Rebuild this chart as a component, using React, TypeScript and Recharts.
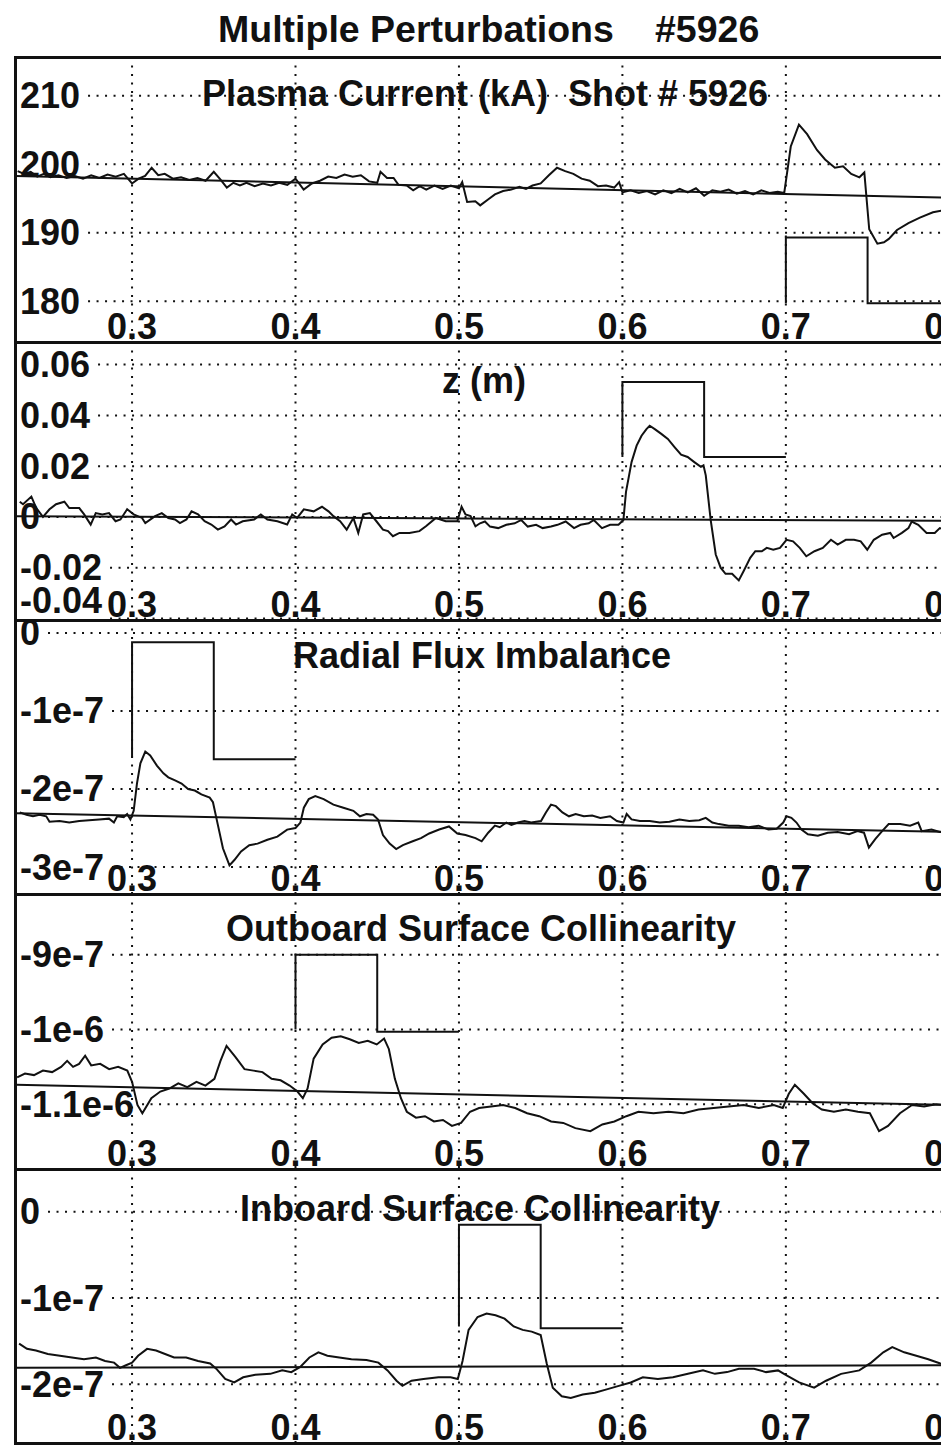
import React from "react"
import { LineChart, Line, XAxis, YAxis, CartesianGrid, ReferenceLine } from "recharts"

type Pt = [number, number]

const FONT = '"Liberation Sans", Arial, Helvetica, sans-serif'
const INK = "#111"

// time axis (s), shared by every panel
const timeTicks = [0.3, 0.4, 0.5, 0.6, 0.7, 0.8]
const timeDomain: [number, number] = [0.229, 0.82]

// --- Plasma current (kA)
const currentTicks = [210, 200, 190, 180]
const currentTickLabels = ["210", "200", "190", "180"]
const currentTrace: Pt[] = [
  [0.23, 199.0], [0.234, 198.6], [0.238, 198.9], [0.242, 198.2], [0.246, 198.6], [0.25, 198.1], [0.255, 198.4],
  [0.26, 198.0], [0.265, 198.3], [0.27, 197.9], [0.275, 198.4], [0.28, 198.0], [0.285, 198.5], [0.29, 198.2],
  [0.295, 198.6], [0.3, 197.2], [0.304, 197.9], [0.308, 198.3], [0.312, 199.5], [0.316, 198.4], [0.32, 198.6],
  [0.325, 197.9], [0.33, 198.1], [0.335, 197.7], [0.34, 198.0], [0.345, 197.6], [0.35, 198.9], [0.354, 197.8],
  [0.358, 196.6], [0.362, 197.3], [0.366, 196.9], [0.37, 197.3], [0.375, 196.8], [0.38, 197.2], [0.385, 196.9],
  [0.39, 197.3], [0.395, 197.0], [0.4, 197.9], [0.405, 196.3], [0.41, 197.2], [0.415, 197.6], [0.42, 198.2],
  [0.425, 198.0], [0.43, 198.5], [0.435, 198.2], [0.44, 198.4], [0.445, 197.5], [0.45, 197.3], [0.452, 198.9],
  [0.456, 198.0], [0.46, 198.0], [0.463, 197.0], [0.468, 196.9], [0.472, 196.2], [0.476, 196.8], [0.48, 196.3],
  [0.485, 196.9], [0.49, 196.4], [0.495, 196.9], [0.5, 196.5], [0.502, 197.4], [0.505, 194.5], [0.51, 194.6],
  [0.513, 194.0], [0.518, 194.9], [0.522, 195.6], [0.527, 196.1], [0.532, 196.3], [0.537, 196.7], [0.541, 196.4],
  [0.545, 196.9], [0.55, 197.2], [0.555, 198.4], [0.56, 199.5], [0.565, 199.0], [0.57, 198.6], [0.575, 197.9],
  [0.58, 197.6], [0.585, 196.8], [0.59, 196.9], [0.595, 196.6], [0.598, 197.4], [0.6, 195.9], [0.605, 196.2],
  [0.61, 195.8], [0.615, 196.1], [0.62, 195.6], [0.625, 196.2], [0.63, 195.8], [0.635, 196.4], [0.64, 195.9],
  [0.645, 196.5], [0.65, 195.4], [0.655, 196.2], [0.66, 196.0], [0.665, 196.3], [0.67, 195.7], [0.675, 196.1],
  [0.68, 195.6], [0.685, 196.2], [0.69, 195.8], [0.695, 196.0], [0.699, 195.8], [0.703, 202.6], [0.708, 205.8],
  [0.713, 204.4], [0.719, 202.1], [0.724, 200.7], [0.73, 199.5], [0.735, 199.7], [0.74, 198.6], [0.745, 198.1],
  [0.748, 198.8], [0.751, 190.5], [0.756, 188.4], [0.76, 188.6], [0.763, 189.1], [0.768, 190.4], [0.775, 191.4],
  [0.782, 192.2], [0.79, 193.0], [0.797, 193.3],
]
const currentFit: Pt[] = [[0.229, 198.3], [0.82, 195.0]]
const currentPulse: Pt[] = [[0.7, 179.7], [0.7, 189.3], [0.75, 189.3], [0.75, 179.7], [0.82, 179.7]]

// --- z (m)
const zTicks = [0.06, 0.04, 0.02, 0, -0.02, -0.04]
const zTickLabels = ["0.06", "0.04", "0.02", "0", "-0.02", "-0.04"]
const zTrace: Pt[] = [
  [0.2313, 0.006], [0.2333, 0.005], [0.2384, 0.008], [0.2414, 0.0035], [0.2455, 0], [0.2495, 0.003], [0.2535, 0.005],
  [0.2586, 0.006], [0.2616, 0.0035], [0.2677, 0.0035], [0.2707, 0.001], [0.2747, -0.003], [0.2778, 0.0015],
  [0.2818, 0.001], [0.2859, 0.0015], [0.2899, -0.0017], [0.2929, -0.001], [0.297, 0.003], [0.301, 0.001],
  [0.3061, -0.0004], [0.3081, -0.0024], [0.3141, 0.0003], [0.3182, 0.0015], [0.3222, -0.0004], [0.3263, -0.001],
  [0.3293, -0.0024], [0.3333, -0.001], [0.3364, 0.0022], [0.3404, 0.001], [0.3444, -0.0017], [0.3485, -0.003],
  [0.3525, -0.005], [0.3566, -0.0037], [0.3606, -0.001], [0.3636, -0.003], [0.3677, -0.0017], [0.3747, -0.001],
  [0.3788, 0.001], [0.3828, -0.001], [0.3889, -0.0017], [0.3949, -0.003], [0.398, 0.001], [0.401, -0.0004],
  [0.4051, 0.003], [0.4111, 0.0022], [0.4162, 0.004], [0.4202, 0.0022], [0.4232, 0.0003], [0.4273, -0.0017],
  [0.4313, -0.005], [0.4354, -0.0004], [0.4384, -0.0063], [0.4414, 0.001], [0.4455, 0.0015], [0.4495, -0.0017],
  [0.4535, -0.005], [0.4566, -0.0056], [0.4596, -0.0076], [0.4636, -0.0063], [0.4697, -0.0063], [0.4758, -0.0056],
  [0.4798, -0.0037], [0.4859, -0.0004], [0.4919, -0.0017], [0.499, -0.0017], [0.5016, 0.004], [0.504, 0.001],
  [0.5071, 0.0003], [0.5101, -0.0037], [0.5129, -0.0025], [0.5159, -0.0018], [0.519, -0.0038], [0.524, -0.0044],
  [0.529, -0.0031], [0.5341, -0.0025], [0.5381, -0.0012], [0.5421, -0.0038], [0.5472, -0.0031], [0.5512, -0.0044],
  [0.5563, -0.0038], [0.5603, -0.0031], [0.5653, -0.0018], [0.5704, -0.0044], [0.5744, -0.0031], [0.5794, -0.0025],
  [0.5825, -0.0012], [0.5875, -0.0044], [0.5925, -0.0031], [0.5976, -0.0031], [0.6006, -0.0012], [0.6022, 0.0099],
  [0.6056, 0.0216], [0.6087, 0.0281], [0.6117, 0.032], [0.6147, 0.0346], [0.6167, 0.0359], [0.6198, 0.0346],
  [0.6238, 0.0327], [0.6278, 0.0307], [0.6319, 0.0275], [0.6359, 0.0245], [0.6399, 0.0236], [0.644, 0.0216],
  [0.648, 0.0197], [0.6496, 0.0203], [0.651, 0.0164], [0.654, -0.0012], [0.6571, -0.0148], [0.6601, -0.02],
  [0.6631, -0.0224], [0.6671, -0.0224], [0.6712, -0.025], [0.6742, -0.0213], [0.6782, -0.0161], [0.6813, -0.0135],
  [0.6853, -0.0135], [0.6883, -0.0122], [0.6923, -0.0129], [0.6964, -0.0122], [0.7004, -0.009], [0.7044, -0.0096],
  [0.7085, -0.0122], [0.7125, -0.0155], [0.7175, -0.0135], [0.7226, -0.0122], [0.7276, -0.009], [0.7317, -0.0109],
  [0.7367, -0.009], [0.7417, -0.009], [0.7458, -0.0096], [0.7498, -0.0129], [0.7538, -0.009], [0.7589, -0.007],
  [0.7639, -0.0063], [0.7659, -0.0083], [0.771, -0.0063], [0.775, -0.0044], [0.777, -0.0018], [0.781, -0.0031],
  [0.7861, -0.0063], [0.7911, -0.0063], [0.7942, -0.0044], [0.797, -0.005],
]
const zFit: Pt[] = [[0.229, 0.0003], [0.82, -0.0016]]
const zPulse: Pt[] = [[0.6, 0.0236], [0.6, 0.0531], [0.65, 0.0531], [0.65, 0.0236], [0.7, 0.0236]]

// --- Radial flux imbalance (units of 1e-7)
const fluxTicks = [0, -1, -2, -3]
const fluxTickLabels = ["0", "-1e-7", "-2e-7", "-3e-7"]
const fluxTrace: Pt[] = [
  [0.2313, -2.3], [0.2354, -2.33], [0.2394, -2.35], [0.2434, -2.33], [0.2475, -2.35], [0.2495, -2.42], [0.2556, -2.41],
  [0.2616, -2.43], [0.2677, -2.41], [0.2737, -2.4], [0.2798, -2.39], [0.2859, -2.38], [0.2889, -2.43], [0.2909, -2.35],
  [0.2949, -2.36], [0.297, -2.32], [0.299, -2.39], [0.301, -2.28], [0.303, -1.93], [0.3051, -1.67], [0.3081, -1.52],
  [0.3111, -1.57], [0.3152, -1.7], [0.3192, -1.8], [0.3222, -1.85], [0.3263, -1.89], [0.3303, -1.93], [0.3343, -2.0],
  [0.3384, -2.02], [0.3424, -2.07], [0.3475, -2.11], [0.3495, -2.17], [0.3525, -2.46], [0.3556, -2.76], [0.3596, -2.98],
  [0.3626, -2.91], [0.3667, -2.8], [0.3717, -2.72], [0.3768, -2.7], [0.3828, -2.65], [0.3889, -2.61], [0.3949, -2.52],
  [0.4, -2.5], [0.403, -2.43], [0.4051, -2.24], [0.4081, -2.13], [0.4121, -2.09], [0.4172, -2.13], [0.4232, -2.2],
  [0.4293, -2.24], [0.4354, -2.28], [0.4394, -2.35], [0.4434, -2.32], [0.4475, -2.33], [0.4505, -2.39], [0.4535, -2.59],
  [0.4576, -2.7], [0.4616, -2.77], [0.4657, -2.72], [0.4717, -2.67], [0.4768, -2.63], [0.4818, -2.57], [0.4879, -2.52],
  [0.4939, -2.48], [0.499, -2.57], [0.504, -2.59], [0.5101, -2.63], [0.5139, -2.67], [0.5179, -2.56], [0.522, -2.47],
  [0.525, -2.49], [0.529, -2.43], [0.5321, -2.46], [0.5361, -2.43], [0.5401, -2.41], [0.5442, -2.43], [0.5502, -2.41],
  [0.5532, -2.3], [0.5563, -2.2], [0.5593, -2.22], [0.5633, -2.3], [0.5673, -2.35], [0.5714, -2.32], [0.5764, -2.35],
  [0.5815, -2.34], [0.5865, -2.37], [0.5925, -2.35], [0.5966, -2.41], [0.6006, -2.43], [0.6026, -2.32], [0.6056, -2.39],
  [0.6107, -2.41], [0.6167, -2.41], [0.6228, -2.43], [0.6288, -2.42], [0.6349, -2.39], [0.6409, -2.41], [0.647, -2.4],
  [0.651, -2.37], [0.655, -2.43], [0.6591, -2.45], [0.6651, -2.47], [0.6712, -2.47], [0.6772, -2.49], [0.6833, -2.47],
  [0.6893, -2.52], [0.6944, -2.51], [0.6984, -2.43], [0.7004, -2.35], [0.7034, -2.37], [0.7065, -2.43], [0.7095, -2.52],
  [0.7135, -2.58], [0.7196, -2.6], [0.7256, -2.56], [0.7317, -2.55], [0.7387, -2.58], [0.7438, -2.54], [0.7478, -2.56],
  [0.7508, -2.75], [0.7548, -2.64], [0.7589, -2.54], [0.7629, -2.45], [0.77, -2.45], [0.776, -2.47], [0.781, -2.43],
  [0.7831, -2.54], [0.7891, -2.52], [0.7942, -2.55], [0.797, -2.56],
]
const fluxFit: Pt[] = [[0.229, -2.31], [0.82, -2.56]]
const fluxPulse: Pt[] = [[0.3, -1.6], [0.3, -0.12], [0.35, -0.12], [0.35, -1.62], [0.4, -1.62]]

// --- Outboard surface collinearity (units of 1e-7)
const outTicks = [-9, -10, -11]
const outTickLabels = ["-9e-7", "-1e-6", "-1.1e-6"]
const outTrace: Pt[] = [
  [0.2297, -10.64], [0.2345, -10.59], [0.24, -10.61], [0.2455, -10.55], [0.2511, -10.57], [0.2566, -10.5], [0.2603, -10.42],
  [0.2639, -10.5], [0.2676, -10.46], [0.2713, -10.35], [0.275, -10.48], [0.2805, -10.46], [0.286, -10.53], [0.2915, -10.5],
  [0.2971, -10.55], [0.3, -10.7], [0.3033, -11.01], [0.3063, -11.12], [0.3118, -10.92], [0.3173, -10.83], [0.3228, -10.79],
  [0.3283, -10.72], [0.3338, -10.77], [0.3394, -10.7], [0.3449, -10.75], [0.3504, -10.66], [0.3541, -10.42], [0.3578, -10.22],
  [0.3633, -10.37], [0.3688, -10.53], [0.3743, -10.55], [0.3798, -10.57], [0.3854, -10.66], [0.3909, -10.68], [0.3964, -10.75],
  [0.4012, -10.83], [0.4045, -10.92], [0.4074, -10.79], [0.4111, -10.39], [0.4166, -10.2], [0.4221, -10.11], [0.4277, -10.09],
  [0.4332, -10.13], [0.4387, -10.18], [0.4442, -10.15], [0.4497, -10.2], [0.4542, -10.12], [0.4571, -10.26], [0.4608, -10.66],
  [0.4645, -10.92], [0.4681, -11.1], [0.4737, -11.18], [0.4792, -11.16], [0.4847, -11.23], [0.4902, -11.21], [0.4957, -11.29],
  [0.5013, -11.25], [0.5068, -11.1], [0.5123, -11.05], [0.5196, -11.03], [0.527, -11.01], [0.5344, -11.05], [0.5417, -11.12],
  [0.5491, -11.16], [0.5564, -11.23], [0.5638, -11.25], [0.5712, -11.32], [0.5804, -11.36], [0.5877, -11.27], [0.5951, -11.23],
  [0.6024, -11.16], [0.6098, -11.1], [0.619, -11.12], [0.6282, -11.1], [0.6374, -11.12], [0.6466, -11.07], [0.6558, -11.05],
  [0.665, -11.03], [0.6742, -11.01], [0.6834, -11.05], [0.6926, -11.01], [0.6981, -11.05], [0.7018, -10.86], [0.7055, -10.74],
  [0.711, -10.86], [0.7165, -10.99], [0.722, -11.07], [0.7294, -11.1], [0.7367, -11.07], [0.7441, -11.1], [0.7514, -11.12],
  [0.757, -11.36], [0.7625, -11.29], [0.7698, -11.12], [0.7772, -11.01], [0.7846, -11.03], [0.7919, -11.0], [0.7974, -11.01],
]
const outFit: Pt[] = [[0.229, -10.74], [0.82, -11.02]]
const outPulse: Pt[] = [[0.4, -10.0], [0.4, -9.0], [0.45, -9.0], [0.45, -10.03], [0.5, -10.03]]

// --- Inboard surface collinearity (units of 1e-7)
const inTicks = [0, -1, -2]
const inTickLabels = ["0", "-1e-7", "-2e-7"]
const inTrace: Pt[] = [
  [0.2309, -1.53], [0.2357, -1.59], [0.2412, -1.61], [0.2485, -1.65], [0.2559, -1.67], [0.2632, -1.69], [0.2706, -1.71],
  [0.2779, -1.69], [0.2835, -1.73], [0.289, -1.75], [0.2926, -1.81], [0.2963, -1.78], [0.3, -1.75], [0.3037, -1.67],
  [0.3092, -1.59], [0.3147, -1.61], [0.3202, -1.65], [0.3257, -1.69], [0.3331, -1.69], [0.3404, -1.73], [0.3478, -1.76],
  [0.3515, -1.82], [0.357, -1.94], [0.3625, -1.98], [0.368, -1.92], [0.3754, -1.89], [0.3846, -1.88], [0.3919, -1.84],
  [0.3974, -1.86], [0.4029, -1.8], [0.4085, -1.69], [0.414, -1.63], [0.4195, -1.67], [0.4268, -1.69], [0.4342, -1.71],
  [0.4434, -1.72], [0.4507, -1.75], [0.4563, -1.84], [0.4618, -1.96], [0.4654, -2.02], [0.471, -1.96], [0.4783, -1.94],
  [0.4875, -1.92], [0.4949, -1.92], [0.4993, -1.94], [0.5022, -1.73], [0.5059, -1.37], [0.5114, -1.22], [0.5169, -1.18],
  [0.5224, -1.2], [0.5279, -1.24], [0.5335, -1.33], [0.539, -1.37], [0.5445, -1.39], [0.55, -1.43], [0.5537, -1.76],
  [0.5574, -2.04], [0.5629, -2.14], [0.5684, -2.16], [0.5757, -2.12], [0.5831, -2.1], [0.5904, -2.06], [0.5978, -2.02],
  [0.6051, -1.98], [0.6125, -1.92], [0.6217, -1.94], [0.6309, -1.92], [0.6401, -1.88], [0.6493, -1.84], [0.6566, -1.88],
  [0.664, -1.86], [0.6713, -1.82], [0.6805, -1.82], [0.6879, -1.86], [0.6952, -1.84], [0.7007, -1.9], [0.7081, -1.98],
  [0.7173, -2.04], [0.7246, -1.96], [0.7338, -1.88], [0.7449, -1.84], [0.7522, -1.75], [0.7596, -1.63], [0.7651, -1.57],
  [0.7724, -1.63], [0.7798, -1.67], [0.7871, -1.71], [0.7945, -1.76], [0.7982, -1.78],
]
const inFit: Pt[] = [[0.229, -1.81], [0.82, -1.78]]
const inPulse: Pt[] = [[0.5, -1.33], [0.5, -0.15], [0.55, -0.15], [0.55, -1.35], [0.6, -1.35]]

type PanelCfg = {
  title: string
  titleX: number
  titleY: number
  top: number
  bottom: number
  domain: [number, number]
  ticks: number[]
  tickLabels: string[]
  trace: Pt[]
  fit: Pt[]
  pulse: Pt[]
}

const panels: PanelCfg[] = [
  { title: "Plasma Current (kA)  Shot # 5926", titleX: 485, titleY: 94, top: 57, bottom: 342, domain: [174.18, 215.68],
    ticks: currentTicks, tickLabels: currentTickLabels, trace: currentTrace, fit: currentFit, pulse: currentPulse },
  { title: "z (m)", titleX: 484, titleY: 381, top: 342, bottom: 620, domain: [-0.0402, 0.0689],
    ticks: zTicks, tickLabels: zTickLabels, trace: zTrace, fit: zFit, pulse: zPulse },
  { title: "Radial Flux Imbalance", titleX: 482, titleY: 656, top: 620, bottom: 894, domain: [-3.333, 0.166],
    ticks: fluxTicks, tickLabels: fluxTickLabels, trace: fluxTrace, fit: fluxFit, pulse: fluxPulse },
  { title: "Outboard Surface Collinearity", titleX: 481, titleY: 929, top: 894, bottom: 1169, domain: [-11.853, -8.187],
    ticks: outTicks, tickLabels: outTickLabels, trace: outTrace, fit: outFit, pulse: outPulse },
  { title: "Inboard Surface Collinearity", titleX: 480, titleY: 1209, top: 1169, bottom: 1443, domain: [-2.671, 0.497],
    ticks: inTicks, tickLabels: inTickLabels, trace: inTrace, fit: inFit, pulse: inPulse },
]

const PLOT_LEFT = 15
const PLOT_W = 967
const FS = 36
const DOTS = "2 6.5"
const PX_PER_T = (PLOT_W - 1) / (timeDomain[1] - timeDomain[0])

const charW = (s: string) =>
  [...s].reduce((w, c) => w + (c === "-" ? 0.333 : c === "." ? 0.278 : 0.556), 0) * FS

const toPts = (a: Pt[]) => a.map(([t, v]) => ({ t, v }))

function XTick(props: any) {
  const { x, payload, h } = props
  return (
    <text x={x} y={h - 16} textAnchor="middle" dominantBaseline="central"
      fontFamily={FONT} fontWeight={700} fontSize={FS} fill={INK}>
      {String(payload.value)}
    </text>
  )
}

function YTick(props: any) {
  const { y, payload, h, ticks, labels } = props
  const i = ticks.indexOf(payload.value)
  const label = labels[i] ?? String(payload.value)
  return (
    <text x={5} y={Math.min(y, h - 20)} dominantBaseline="central" fontFamily={FONT} fontWeight={700}
      fontSize={FS} fill={INK}>
      {label}
    </text>
  )
}

function Panel({ p }: { p: PanelCfg }) {
  const h = p.bottom - p.top
  return (
    <div style={{ position: "absolute", left: PLOT_LEFT, top: p.top }}>
      <LineChart width={PLOT_W} height={h} margin={{ top: 0, right: 0, bottom: 0, left: 0 }}>
        <CartesianGrid stroke={INK} strokeWidth={2} strokeDasharray={DOTS} horizontal={false} />
        {/* horizontal grid starts just past each value label */}
        {p.ticks.map((v, i) => (
          <ReferenceLine
            key={v}
            segment={[
              { x: timeDomain[0] + (charW(p.tickLabels[i]) + 12) / PX_PER_T, y: v },
              { x: timeDomain[1], y: v },
            ]}
            stroke={INK}
            strokeWidth={2}
            strokeDasharray={DOTS}
          />
        ))}
        <XAxis
          dataKey="t"
          type="number"
          domain={timeDomain}
          ticks={timeTicks}
          interval={0}
          allowDataOverflow
          height={1}
          axisLine={false}
          tickLine={false}
          tick={<XTick h={h} />}
        />
        <YAxis
          type="number"
          domain={p.domain}
          ticks={p.ticks}
          interval={0}
          allowDataOverflow
          width={1}
          axisLine={false}
          tickLine={false}
          tick={<YTick h={h} ticks={p.ticks} labels={p.tickLabels} />}
        />
        <Line data={toPts(p.fit)} dataKey="v" type="linear" stroke={INK} strokeWidth={2} dot={false}
          isAnimationActive={false} />
        <Line data={toPts(p.pulse)} dataKey="v" type="linear" stroke={INK} strokeWidth={2} dot={false}
          isAnimationActive={false} />
        <Line data={toPts(p.trace)} dataKey="v" type="linear" stroke={INK} strokeWidth={2} dot={false}
          isAnimationActive={false} />
      </LineChart>
    </div>
  )
}

const textStyle: React.CSSProperties = {
  position: "absolute",
  fontFamily: FONT,
  fontWeight: 700,
  fontSize: FS,
  lineHeight: 1,
  color: INK,
  whiteSpace: "pre",
}

export default function App() {
  const rules = [57, ...panels.map(p => p.bottom)]
  return (
    <div style={{ position: "absolute", left: 0, top: 0, width: 941, height: 1446, overflow: "hidden", background: "#fff" }}>
      <div style={{ ...textStyle, fontSize: 37.5, left: 218, top: 30, transform: "translateY(-50%)" }}>Multiple Perturbations</div>
      <div style={{ ...textStyle, fontSize: 37.5, left: 655, top: 30, transform: "translateY(-50%)" }}>#5926</div>
      {panels.map((p, i) => (
        <Panel key={i} p={p} />
      ))}
      {panels.map((p, i) => (
        <div key={"t" + i} style={{ ...textStyle, left: p.titleX, top: p.titleY, transform: "translate(-50%, -50%)" }}>
          {p.title}
        </div>
      ))}
      {rules.map((y, i) => (
        <div key={"r" + i} style={{ position: "absolute", left: 15, top: y - 1.5, width: 941, height: 3, background: INK }} />
      ))}
      <div style={{ position: "absolute", left: 14, top: 55.5, width: 3, height: 1443 - 55.5 + 1.5, background: INK }} />
    </div>
  )
}
